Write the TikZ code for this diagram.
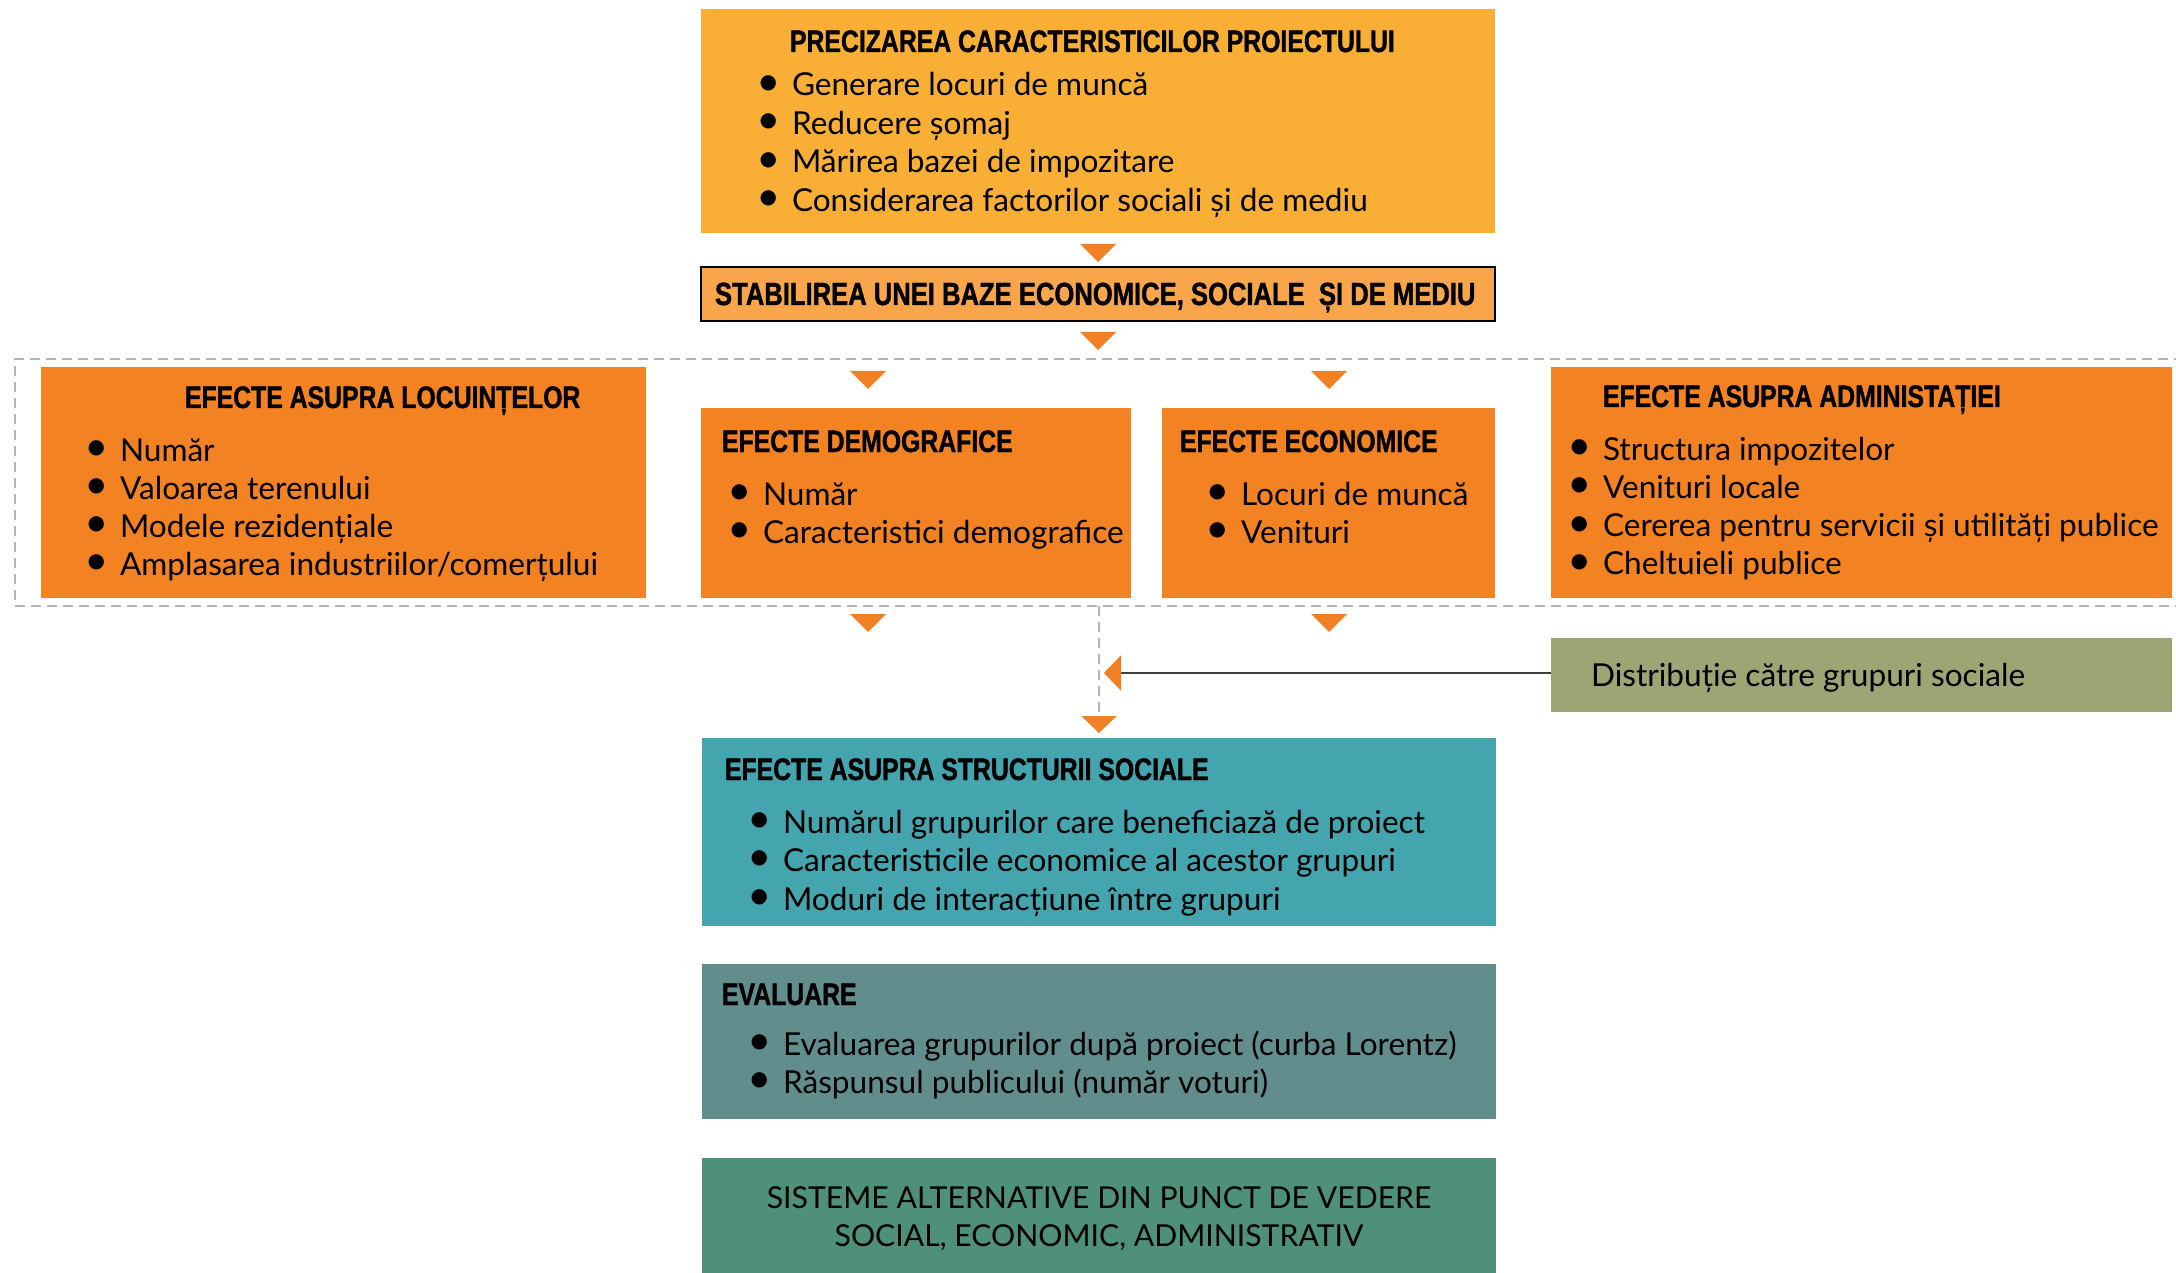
\documentclass[tikz,border=0pt]{standalone}
\usepackage{fontspec}
\setmainfont{Lato}
\newfontfamily\ttlfam[FakeStretch=0.8,FakeBold=1.2]{Liberation Sans}
\newfontfamily\bulfam{DejaVu Sans}
\usetikzlibrary{arrows.meta}
\definecolor{topc}{HTML}{F9AF35}
\definecolor{basec}{HTML}{F8A54B}
\definecolor{orc}{HTML}{F38222}
\definecolor{tric}{HTML}{F08023}
\definecolor{dashg}{HTML}{B4B4B4}
\definecolor{tealc}{HTML}{44A5AE}
\definecolor{evalc}{HTML}{618E8C}
\definecolor{sistc}{HTML}{4E9079}
\definecolor{olivec}{HTML}{9DA574}
\definecolor{lineg}{HTML}{404040}
\newcommand\bodyf{\fontsize{15.8pt}{19pt}\selectfont}
\newcommand\ttlf{\ttlfam\bfseries\fontsize{15.5pt}{18pt}\selectfont}
\newcommand\bul{\llap{\raisebox{3.8pt}{\bulfam\fontsize{10pt}{10pt}\selectfont ●}\hspace{7.5pt}}}
\tikzset{
  box/.style={inner sep=0pt, outer sep=0pt, anchor=north west, draw=none},
  txt/.style={anchor=base west, inner sep=0pt, outer sep=0pt, font=\bodyf},
  item/.style={txt, execute at begin node=\bul},
  ttl/.style={anchor=base west, inner sep=0pt, outer sep=0pt, font=\ttlf},
  downtri/.pic={\fill[tric] (-18,0) -- (18,0) -- (0,18) -- cycle;},
  tip/.style={-{Triangle[length=8.5pt,width=17.5pt,color=tric]}}
}
\begin{document}
\begin{tikzpicture}[x=0.5pt,y=-0.5pt]
\useasboundingbox (0,0) rectangle (2176,1273);
% boxes
\node[box, fill=topc, minimum width=397pt, minimum height=112pt] (proj) at (701,9) {};
\node[box, fill=basec, draw=black, line width=0.75pt, minimum width=397pt, minimum height=27pt] (base) at (701,267) {};
\node[box, draw=dashg, line width=1pt, dash pattern=on 5pt off 3pt, minimum width=1092.5pt, minimum height=123.5pt] (frame) at (15,359) {};
\node[box, fill=orc, minimum width=302.5pt, minimum height=115.5pt] (loc) at (41,367) {};
\node[box, fill=orc, minimum width=215pt, minimum height=95pt] (dem) at (701,408) {};
\node[box, fill=orc, minimum width=166.5pt, minimum height=95pt] (eco) at (1162,408) {};
\node[box, fill=orc, minimum width=310.5pt, minimum height=115.5pt] (adm) at (1551,367) {};
\node[box, fill=olivec, minimum width=310.5pt, minimum height=37pt] (dist) at (1551,638) {};
\node[box, fill=tealc, minimum width=397pt, minimum height=94pt] (soc) at (702,738) {};
\node[box, fill=evalc, minimum width=397pt, minimum height=77.5pt] (eval) at (702,964) {};
\node[box, fill=sistc, minimum width=397pt, minimum height=61pt] (sist) at (702,1158) {};
% triangles
\pic at (1098,244) {downtri};
\pic at (1098,332) {downtri};
\pic at (868,371) {downtri};
\pic at (1329,371) {downtri};
\pic at (868,614) {downtri};
\pic at (1329,614) {downtri};
% connectors
\draw[dashg, line width=1pt, dash pattern=on 5pt off 3pt, tip, shorten >=2.5pt] (soc.north |- frame.south) -- (soc.north);
\coordinate (vj) at (1104,673);
\draw[lineg, line width=0.7pt, tip] (dist.west |- vj) -- (vj);
% texts
\node[ttl] (projt) at (790,52) {PRECIZAREA CARACTERISTICILOR PROIECTULUI};
\foreach \t [count=\i] in {{Generare locuri de muncă},{Reducere șomaj},{Mărirea bazei de impozitare},{Considerarea factorilor sociali și de mediu}}
  \node[item] (proj\i) at (792,{96+38.4*(\i-1)}) {\t};
\node[ttl, font=\ttlf\fontsize{16pt}{18pt}\selectfont] (baset) at (715,305) {STABILIREA UNEI BAZE ECONOMICE, SOCIALE~ ȘI DE MEDIU};
\node[ttl] (loct) at (185,408) {EFECTE ASUPRA LOCUINȚELOR};
\foreach \t [count=\i] in {{Număr},{Valoarea terenului},{Modele rezidențiale},{Amplasarea industriilor/comerțului}}
  \node[item] (loc\i) at (120,{461+38.1*(\i-1)}) {\t};
\node[ttl] (demt) at (722,452) {EFECTE DEMOGRAFICE};
\foreach \t [count=\i] in {{Număr},{Caracteristici demografice}}
  \node[item] (dem\i) at (763,{505+38*(\i-1)}) {\t};
\node[ttl] (ecot) at (1180,452) {EFECTE ECONOMICE};
\foreach \t [count=\i] in {{Locuri de muncă},{Venituri}}
  \node[item] (eco\i) at (1241,{505+38*(\i-1)}) {\t};
\node[ttl] (admt) at (1603,407) {EFECTE ASUPRA ADMINISTAȚIEI};
\foreach \t [count=\i] in {{Structura impozitelor},{Venituri locale},{Cererea pentru servicii și utilități publice},{Cheltuieli publice}}
  \node[item] (adm\i) at (1603,{460+38.3*(\i-1)}) {\t};
\node[txt] (distt) at (1591,686) {Distribuție către grupuri sociale};
\node[ttl] (soct) at (725,780) {EFECTE ASUPRA STRUCTURII SOCIALE};
\foreach \t [count=\i] in {{Numărul grupurilor care beneficiază de proiect},{Caracteristicile economice al acestor grupuri},{Moduri de interacțiune între grupuri}}
  \node[item] (soc\i) at (783,{833+38.5*(\i-1)}) {\t};
\node[ttl] (evalt) at (722,1005) {EVALUARE};
\foreach \t [count=\i] in {{Evaluarea grupurilor după proiect (curba Lorentz)},{Răspunsul publicului (număr voturi)}}
  \node[item] (eval\i) at (783,{1055+38*(\i-1)}) {\t};
\node[anchor=base, inner sep=0pt, font=\fontsize{15.1pt}{19pt}\selectfont] (sist1) at (1099,1208) {SISTEME ALTERNATIVE DIN PUNCT DE VEDERE};
\node[anchor=base, inner sep=0pt, font=\fontsize{15.1pt}{19pt}\selectfont] (sist2) at (1099,1246) {SOCIAL, ECONOMIC, ADMINISTRATIV};
\end{tikzpicture}
\end{document}
